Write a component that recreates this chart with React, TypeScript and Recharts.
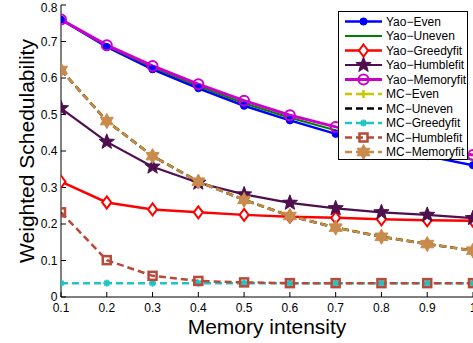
import React from 'react';
import { LineChart, Line, XAxis, YAxis, Legend } from 'recharts';

const xValues = [0.1, 0.2, 0.3, 0.4, 0.5, 0.6, 0.7, 0.8, 0.9, 1.0];
const yaoEven = [0.76, 0.685, 0.624, 0.572, 0.524, 0.484, 0.447, 0.415, 0.386, 0.361];
const yaoUneven = [0.76, 0.688, 0.629, 0.578, 0.531, 0.491, 0.457, 0.427, 0.4, 0.376];
const yaoGreedyfit = [0.316, 0.259, 0.24, 0.232, 0.225, 0.22, 0.217, 0.213, 0.21, 0.209];
const yaoHumblefit = [0.517, 0.425, 0.357, 0.313, 0.281, 0.258, 0.243, 0.232, 0.225, 0.216];
const yaoMemoryfit = [0.76, 0.69, 0.633, 0.583, 0.538, 0.498, 0.466, 0.438, 0.412, 0.389];
const mcEven = [0.623, 0.483, 0.387, 0.317, 0.267, 0.223, 0.191, 0.166, 0.146, 0.128];
const mcUneven = [0.622, 0.482, 0.386, 0.316, 0.266, 0.222, 0.19, 0.165, 0.145, 0.127];
const mcGreedyfit = [0.038, 0.038, 0.038, 0.038, 0.038, 0.038, 0.038, 0.038, 0.038, 0.038];
const mcHumblefit = [0.232, 0.101, 0.058, 0.044, 0.04, 0.038, 0.038, 0.038, 0.038, 0.038];
const mcMemoryfit = [0.622, 0.482, 0.386, 0.316, 0.266, 0.222, 0.19, 0.165, 0.145, 0.127];

const xTicks = [0.1, 0.2, 0.3, 0.4, 0.5, 0.6, 0.7, 0.8, 0.9, 1];
const yTicks = [0, 0.1, 0.2, 0.3, 0.4, 0.5, 0.6, 0.7, 0.8];

type MarkerKind = 'circle' | 'none' | 'diamond' | 'star5' | 'ocircle' | 'plus' | 'asterisk' | 'square' | 'hexagram';

const series: { key: string; name: string; values: number[]; color: string; width: number; dash?: string; marker: MarkerKind }[] = [
  { key: 'yaoEven', name: 'Yao\u2212Even', values: yaoEven, color: '#0000ff', width: 2.5, marker: 'circle' },
  { key: 'yaoUneven', name: 'Yao\u2212Uneven', values: yaoUneven, color: '#008000', width: 2, marker: 'none' },
  { key: 'yaoGreedyfit', name: 'Yao\u2212Greedyfit', values: yaoGreedyfit, color: '#ff0000', width: 2.5, marker: 'diamond' },
  { key: 'yaoHumblefit', name: 'Yao\u2212Humblefit', values: yaoHumblefit, color: '#4f0f4f', width: 2.2, marker: 'star5' },
  { key: 'yaoMemoryfit', name: 'Yao\u2212Memoryfit', values: yaoMemoryfit, color: '#cc00cc', width: 3, marker: 'ocircle' },
  { key: 'mcEven', name: 'MC\u2212Even', values: mcEven, color: '#c8c800', width: 2.5, dash: '7 4', marker: 'plus' },
  { key: 'mcUneven', name: 'MC\u2212Uneven', values: mcUneven, color: '#000000', width: 2.5, dash: '7 4', marker: 'none' },
  { key: 'mcGreedyfit', name: 'MC\u2212Greedyfit', values: mcGreedyfit, color: '#1fc5c5', width: 2.5, dash: '7 4', marker: 'asterisk' },
  { key: 'mcHumblefit', name: 'MC\u2212Humblefit', values: mcHumblefit, color: '#b84a3a', width: 2.5, dash: '7 4', marker: 'square' },
  { key: 'mcMemoryfit', name: 'MC\u2212Memoryfit', values: mcMemoryfit, color: '#c98b4c', width: 2.5, dash: '7 4', marker: 'hexagram' },
];

const data = xValues.map((x, i) => {
  const row: Record<string, number> = { x };
  series.forEach((s) => {
    row[s.key] = s.values[i];
  });
  return row;
});

function starPath(cx: number, cy: number, R: number, r: number, n: number) {
  let d = '';
  for (let i = 0; i < 2 * n; i++) {
    const a = -Math.PI / 2 + (i * Math.PI) / n;
    const rad = i % 2 === 0 ? R : r;
    d += (i === 0 ? 'M' : 'L') + (cx + rad * Math.cos(a)).toFixed(2) + ',' + (cy + rad * Math.sin(a)).toFixed(2);
  }
  return d + 'Z';
}

function Marker({ kind, cx, cy, color }: { kind: MarkerKind; cx: number; cy: number; color: string }) {
  if (cx == null || cy == null || isNaN(cx) || isNaN(cy)) return <g />;
  switch (kind) {
    case 'circle':
      return <circle cx={cx} cy={cy} r={3.6} fill={color} stroke={color} strokeWidth={1} />;
    case 'ocircle':
      return <circle cx={cx} cy={cy} r={5} fill="none" stroke={color} strokeWidth={2} />;
    case 'diamond':
      return (
        <path
          d={`M${cx},${cy - 6}L${cx + 4.5},${cy}L${cx},${cy + 6}L${cx - 4.5},${cy}Z`}
          fill="#ffffff"
          stroke={color}
          strokeWidth={2}
        />
      );
    case 'star5':
      return <path d={starPath(cx, cy, 8, 3.4, 5)} fill={color} stroke={color} strokeWidth={1} strokeLinejoin="round" />;
    case 'hexagram':
      return <path d={starPath(cx, cy, 7.5, 4.3, 6)} fill={color} stroke={color} strokeWidth={1} strokeLinejoin="round" />;
    case 'plus':
      return (
        <g stroke={color} strokeWidth={2.5}>
          <line x1={cx - 4} y1={cy} x2={cx + 4} y2={cy} />
          <line x1={cx} y1={cy - 4} x2={cx} y2={cy + 4} />
        </g>
      );
    case 'asterisk':
      return (
        <g stroke={color} strokeWidth={2}>
          <line x1={cx - 3.5} y1={cy} x2={cx + 3.5} y2={cy} />
          <line x1={cx} y1={cy - 3.5} x2={cx} y2={cy + 3.5} />
          <line x1={cx - 2.5} y1={cy - 2.5} x2={cx + 2.5} y2={cy + 2.5} />
          <line x1={cx - 2.5} y1={cy + 2.5} x2={cx + 2.5} y2={cy - 2.5} />
        </g>
      );
    case 'square':
      return <rect x={cx - 4} y={cy - 4} width={8} height={8} fill="none" stroke={color} strokeWidth={2.5} />;
    default:
      return <g />;
  }
}

const FONT = '"Liberation Sans", Arial, Helvetica, sans-serif';

function LegendBox(props: any) {
  const payload: any[] = props.payload || [];
  const rowH = 14.5;
  return (
    <div
      style={{
        width: 130,
        height: 149,
        border: '1px solid #000',
        background: '#fff',
        boxSizing: 'border-box',
      }}
    >
      <svg width={128} height={147} style={{ display: 'block' }}>
        {series.map((s, i) => {
          const p = payload.find((q) => q.dataKey === s.key);
          const label = p ? p.value : s.name;
          const y = 9.5 + i * rowH;
          return (
            <g key={s.key}>
              <line
                x1={6}
                y1={y}
                x2={43}
                y2={y}
                stroke={s.color}
                strokeWidth={s.width}
                strokeDasharray={s.dash ? '7 4' : undefined}
              />
              <Marker kind={s.marker} cx={24.5} cy={y} color={s.color} />
              <text x={47} y={y + 4.3} fontSize={12} fontFamily={FONT} fill="#000">
                {label}
              </text>
            </g>
          );
        })}
      </svg>
    </div>
  );
}

export default function App() {
  return (
    <div
      style={{
        position: 'fixed',
        left: 0,
        top: 0,
        width: 473,
        height: 343,
        overflow: 'hidden',
        background: '#fff',
      }}
    >
      <LineChart width={485} height={343} data={data} margin={{ top: 5, right: 12, bottom: 0, left: 0 }}>
        <XAxis
          dataKey="x"
          type="number"
          domain={[0.1, 1]}
          ticks={xTicks}
          allowDataOverflow
          height={46}
          tickSize={-5}
          tickMargin={11}
          stroke="#000"
          axisLine={{ stroke: '#000', strokeWidth: 1 }}
          tickLine={{ stroke: '#000' }}
          tick={{ fill: '#000', fontSize: 12, fontFamily: FONT }}
          label={{
            value: 'Memory intensity',
            position: 'center',
            dy: 7,
            style: { fill: '#000', fontSize: 21, fontFamily: FONT },
          }}
        />
        <XAxis
          xAxisId="top"
          orientation="top"
          dataKey="x"
          type="number"
          domain={[0.1, 1]}
          ticks={xTicks}
          allowDataOverflow
          height={0}
          tickSize={-5}
          tick={false}
          axisLine={{ stroke: '#000', strokeWidth: 1 }}
          tickLine={{ stroke: '#000' }}
        />
        <YAxis
          type="number"
          domain={[0, 0.8]}
          ticks={yTicks}
          allowDataOverflow
          width={61}
          tickSize={-5}
          tickMargin={8.5}
          axisLine={{ stroke: '#000', strokeWidth: 1 }}
          tickLine={{ stroke: '#000' }}
          tick={{ fill: '#000', fontSize: 12, fontFamily: FONT }}
          label={{
            value: 'Weighted Schedulability',
            angle: -90,
            position: 'center',
            dx: -4,
            style: { fill: '#000', fontSize: 21, fontFamily: FONT, textAnchor: 'middle' },
          }}
        />
        <YAxis
          yAxisId="right"
          orientation="right"
          type="number"
          domain={[0, 0.8]}
          ticks={yTicks}
          allowDataOverflow
          width={0}
          tickSize={-5}
          tick={false}
          axisLine={{ stroke: '#000', strokeWidth: 1 }}
          tickLine={{ stroke: '#000' }}
        />
        <Legend
          layout="vertical"
          align="center"
          verticalAlign="middle"
          wrapperStyle={{ left: 338, top: 11, width: 130, height: 149 }}
          content={<LegendBox />}
        />
        {series.map((s) => (
          <Line
            key={s.key}
            dataKey={s.key}
            name={s.name}
            type="linear"
            stroke={s.color}
            strokeWidth={s.width}
            strokeDasharray={s.dash}
            isAnimationActive={false}
            activeDot={false}
            dot={(p: any) => <Marker key={`${s.key}-${p.index}`} kind={s.marker} cx={p.cx} cy={p.cy} color={s.color} />}
          />
        ))}
      </LineChart>
    </div>
  );
}
